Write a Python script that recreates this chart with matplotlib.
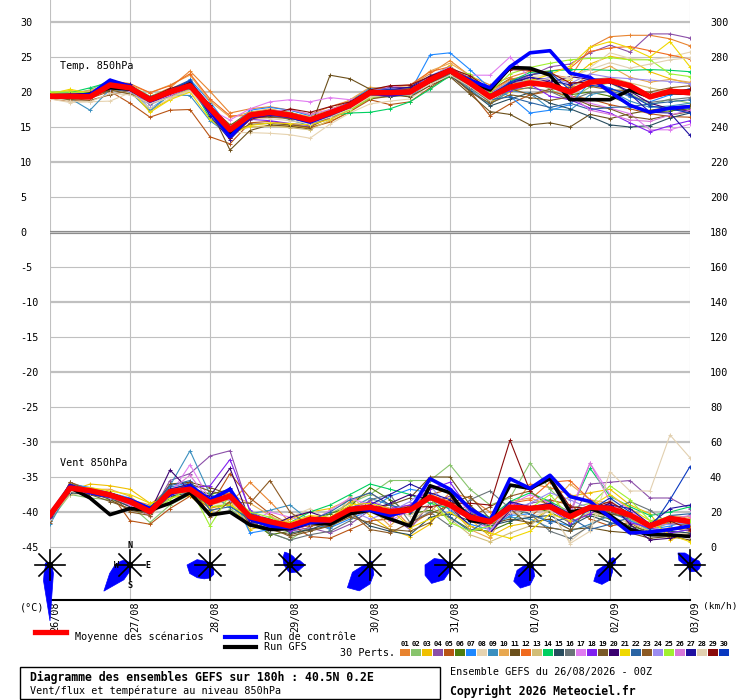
import matplotlib
matplotlib.use('Agg')
import matplotlib.pyplot as plt
import matplotlib.transforms as mtransforms
from matplotlib.lines import Line2D
from matplotlib.patches import Polygon, Rectangle, Circle
import numpy as np

plt.rcParams['font.family'] = ['DejaVu Sans Mono']
plt.rcParams['axes.unicode_minus'] = False

#################################################
# Data.
hours = list(range(0, 193, 6))
day_ticks = [0, 24, 48, 72, 96, 120, 144, 168, 192]
day_labels = ['26/08', '27/08', '28/08', '29/08', '30/08', '31/08', '01/09', '02/09', '03/09']

# temperature 850hPa (degC)
mean_t = [19.4, 19.4, 19.3, 21.0, 20.6, 18.9, 20.0, 20.9, 17.7, 14.6, 16.7, 17.1, 16.7, 16.0, 17.0, 18.1, 19.9,
          19.9, 20.0, 21.7, 23.1, 21.3, 19.3, 20.7, 21.3, 21.0, 20.0, 21.4, 21.6, 20.9, 19.3, 20.1, 19.9]
ctrl_t = [19.4, 19.5, 19.6, 21.7, 20.8, 18.7, 19.9, 20.9, 17.3, 13.6, 16.5, 16.9, 16.5, 15.7, 16.8, 18.0, 19.8,
          19.6, 19.9, 21.8, 23.1, 21.7, 20.6, 23.6, 25.6, 25.9, 22.7, 22.1, 20.0, 18.1, 17.1, 17.7, 17.9]
gfs_t = [19.3, 19.4, 19.7, 20.6, 20.4, 18.8, 19.9, 21.1, 17.6, 14.1, 16.6, 17.0, 16.6, 15.9, 16.9, 18.1, 19.9,
         19.9, 20.0, 21.6, 23.0, 21.5, 20.3, 23.5, 23.4, 22.4, 18.9, 18.9, 18.9, 20.3, 19.3, 19.9, 19.8]

t01 = [19.6, 19.5, 19.8, 21.5, 20.9, 19.3, 20.6, 23.0, 20.1, 17.0, 17.6, 17.9, 17.4, 16.8, 17.9, 18.8, 20.4, 20.8, 20.9, 22.6, 24.5, 22.3, 21.0, 22.1, 23.0, 22.5, 22.0, 26.4, 27.9, 28.1, 28.1, 27.6, 26.6]
t02 = [19.8, 19.7, 20.3, 21.7, 21.0, 19.4, 20.4, 21.3, 17.0, 14.0, 16.3, 17.5, 17.0, 16.4, 17.2, 18.0, 19.6, 19.5, 19.8, 21.2, 22.6, 20.8, 18.9, 21.2, 21.9, 20.4, 19.0, 20.7, 21.3, 19.8, 18.1, 19.0, 18.4]
t03 = [19.9, 20.2, 19.9, 21.3, 20.2, 17.3, 19.0, 20.3, 17.9, 15.3, 15.0, 15.2, 15.1, 14.9, 15.8, 17.2, 19.1, 19.4, 20.3, 22.0, 23.8, 21.0, 18.5, 20.0, 20.7, 21.6, 21.7, 24.0, 25.1, 24.6, 22.9, 21.9, 21.2]
t04 = [19.1, 19.0, 19.2, 20.6, 20.3, 18.7, 19.8, 20.6, 16.9, 13.5, 16.0, 16.6, 16.3, 15.9, 16.6, 17.8, 19.6, 20.1, 20.3, 21.8, 22.9, 21.6, 19.9, 21.4, 22.3, 23.6, 24.0, 25.6, 26.7, 25.7, 28.3, 28.3, 27.7]
t05 = [19.0, 18.7, 19.1, 20.1, 18.4, 16.4, 17.4, 17.5, 13.6, 12.6, 15.6, 15.8, 15.4, 14.9, 15.7, 17.2, 18.9, 18.2, 18.6, 20.6, 22.4, 20.1, 16.6, 18.3, 19.6, 20.1, 19.4, 19.0, 18.2, 17.6, 16.9, 16.5, 16.4]
t06 = [19.5, 19.3, 19.5, 20.9, 20.6, 19.0, 20.3, 21.5, 18.0, 15.2, 17.2, 17.3, 17.1, 16.3, 17.5, 18.4, 19.7, 20.2, 20.4, 21.9, 23.3, 22.0, 20.2, 21.9, 21.5, 21.2, 19.6, 20.0, 19.4, 18.2, 17.1, 17.3, 17.6]
t07 = [19.4, 19.2, 19.4, 21.2, 20.5, 17.6, 19.5, 21.8, 18.6, 14.8, 17.4, 17.8, 17.4, 16.6, 17.3, 18.6, 20.6, 20.5, 20.0, 25.3, 25.6, 23.2, 20.5, 19.4, 17.0, 17.4, 18.2, 21.4, 20.6, 19.3, 18.6, 19.6, 20.5]
t08 = [19.0, 18.5, 18.6, 18.7, 19.9, 17.7, 19.0, 20.2, 16.9, 14.2, 14.2, 14.1, 13.9, 13.4, 15.4, 17.0, 18.3, 18.7, 19.0, 21.0, 22.8, 21.0, 19.6, 20.4, 22.2, 22.4, 21.9, 23.5, 25.6, 24.8, 24.6, 25.0, 25.7]
t09 = [19.3, 19.1, 17.4, 20.4, 20.0, 17.3, 19.6, 19.5, 15.9, 13.8, 16.6, 17.0, 16.0, 15.2, 16.5, 17.6, 19.2, 19.8, 19.4, 21.3, 22.5, 20.4, 18.2, 20.2, 19.8, 17.6, 17.4, 19.6, 20.2, 18.7, 17.8, 18.0, 18.4]
t10 = [19.6, 19.8, 20.2, 21.1, 21.0, 19.9, 21.0, 22.4, 18.7, 16.4, 17.1, 17.6, 17.0, 16.5, 17.4, 18.9, 20.7, 20.3, 20.6, 23.0, 24.1, 22.4, 20.0, 21.6, 21.0, 20.8, 20.5, 22.6, 23.7, 22.1, 21.4, 21.8, 21.4]
t11 = [19.2, 19.0, 19.5, 20.2, 20.5, 19.0, 19.9, 21.0, 17.6, 11.7, 14.5, 15.3, 15.1, 14.7, 22.4, 21.9, 20.4, 19.6, 19.3, 20.9, 22.2, 19.7, 17.2, 16.8, 15.3, 15.6, 15.0, 16.8, 16.2, 16.9, 17.4, 17.8, 18.1]
t12 = [19.5, 19.6, 19.9, 21.6, 21.2, 19.9, 20.9, 22.6, 19.0, 16.6, 16.6, 16.9, 16.6, 16.0, 17.3, 18.3, 20.2, 20.8, 21.0, 22.9, 23.6, 21.9, 20.2, 21.8, 22.4, 23.0, 23.4, 25.8, 26.3, 26.5, 25.9, 25.3, 24.7]
t13 = [19.4, 19.5, 19.6, 20.3, 19.8, 18.2, 19.3, 20.4, 17.3, 14.2, 15.0, 15.1, 14.9, 14.6, 16.0, 17.5, 19.4, 19.3, 19.6, 21.5, 22.7, 20.7, 19.8, 21.0, 21.8, 21.7, 20.8, 21.7, 22.1, 21.3, 20.6, 20.0, 19.8]
t14 = [19.8, 19.9, 20.6, 21.4, 20.6, 19.0, 20.1, 21.2, 16.2, 14.1, 16.6, 17.1, 16.6, 16.0, 16.6, 17.0, 17.1, 17.6, 18.6, 20.4, 22.3, 21.1, 19.3, 21.5, 22.8, 23.0, 23.2, 23.2, 23.1, 23.1, 23.2, 23.1, 22.9]
t15 = [19.3, 19.2, 19.4, 20.8, 20.1, 18.3, 19.5, 20.6, 17.4, 14.3, 16.3, 16.5, 16.3, 15.5, 16.4, 17.8, 19.6, 19.3, 19.7, 21.4, 22.4, 20.2, 18.0, 19.0, 19.9, 18.4, 17.6, 16.5, 15.3, 15.0, 15.2, 16.3, 17.0]
t16 = [19.3, 19.3, 19.5, 20.6, 20.3, 18.5, 19.7, 20.5, 16.8, 14.4, 16.5, 16.7, 16.2, 15.7, 16.9, 17.9, 19.4, 19.8, 19.9, 21.3, 22.6, 20.6, 18.6, 20.3, 20.6, 20.1, 18.8, 19.9, 20.1, 19.5, 18.5, 18.9, 19.2]
t17 = [19.1, 19.2, 19.3, 20.5, 20.7, 18.6, 20.1, 21.3, 17.5, 16.0, 17.6, 18.6, 18.9, 18.6, 19.2, 18.9, 19.5, 20.9, 20.4, 22.1, 23.3, 22.4, 22.4, 25.0, 22.0, 21.6, 19.2, 18.4, 17.7, 16.9, 14.6, 14.6, 15.4]
t18 = [19.4, 19.3, 19.4, 21.0, 20.3, 18.9, 19.6, 20.6, 17.1, 14.5, 16.1, 15.9, 15.5, 15.2, 16.2, 17.5, 19.1, 19.7, 19.9, 21.6, 22.9, 21.1, 19.4, 20.2, 21.1, 19.4, 18.9, 17.7, 17.0, 15.6, 14.3, 15.2, 15.9]
t19 = [19.2, 18.9, 19.3, 20.3, 19.7, 18.4, 19.8, 20.7, 17.2, 13.8, 15.4, 15.5, 15.3, 15.0, 16.4, 17.6, 19.0, 19.4, 19.8, 21.3, 22.7, 20.0, 18.4, 19.6, 19.2, 18.8, 19.3, 18.1, 17.6, 16.5, 16.1, 16.7, 17.2]
t20 = [19.5, 19.4, 19.6, 21.2, 20.8, 19.3, 20.2, 21.0, 18.1, 14.7, 16.9, 17.4, 16.9, 16.2, 17.3, 18.5, 20.1, 20.6, 20.6, 22.0, 23.4, 21.7, 19.4, 21.2, 22.1, 21.4, 22.2, 21.8, 21.3, 20.1, 18.4, 17.6, 17.3]
t21 = [19.7, 20.4, 19.8, 21.1, 20.4, 17.1, 18.9, 20.0, 16.1, 13.9, 15.2, 15.6, 15.5, 15.3, 16.1, 17.5, 19.4, 19.6, 20.2, 21.8, 23.5, 21.4, 19.5, 21.0, 21.6, 22.5, 23.7, 26.4, 27.2, 26.3, 25.0, 27.2, 23.6]
t22 = [19.3, 19.1, 19.2, 21.1, 20.5, 18.7, 20.4, 21.7, 17.6, 14.9, 16.6, 17.0, 16.7, 15.9, 17.1, 18.2, 19.9, 20.0, 20.1, 21.9, 22.8, 20.9, 18.9, 19.3, 18.5, 17.8, 18.4, 17.5, 17.8, 17.9, 18.3, 18.6, 18.9]
t23 = [19.4, 18.9, 18.8, 19.6, 20.2, 18.6, 19.6, 20.8, 17.9, 15.3, 16.4, 16.4, 16.2, 15.8, 16.8, 18.3, 20.0, 20.2, 20.5, 21.5, 23.5, 21.5, 19.0, 20.5, 19.6, 20.4, 20.7, 20.8, 20.3, 20.2, 20.0, 20.6, 20.9]
t24 = [19.6, 19.5, 19.7, 20.5, 20.1, 18.2, 19.6, 20.9, 17.6, 14.9, 16.9, 16.9, 16.5, 16.0, 17.2, 18.3, 20.2, 20.5, 20.1, 22.3, 23.6, 21.5, 19.7, 21.5, 21.4, 22.1, 21.2, 22.6, 22.1, 21.9, 21.7, 21.5, 21.2]
t25 = [20.0, 20.0, 19.9, 21.4, 20.6, 19.2, 20.3, 21.1, 17.8, 14.4, 16.6, 16.8, 16.4, 15.9, 16.7, 17.4, 19.1, 19.8, 20.2, 21.8, 22.9, 22.6, 20.0, 22.6, 23.5, 24.1, 24.6, 24.8, 24.9, 24.6, 24.6, 22.6, 22.2]
t26 = [19.3, 19.4, 19.3, 20.8, 20.2, 18.5, 19.5, 20.7, 17.0, 15.0, 16.9, 17.2, 17.5, 16.8, 17.5, 18.4, 19.8, 20.2, 19.9, 21.6, 23.2, 21.0, 19.1, 20.6, 21.2, 20.7, 19.6, 17.4, 16.8, 16.0, 15.8, 16.7, 17.4]
t27 = [19.6, 19.7, 19.8, 21.5, 21.1, 18.4, 19.8, 21.4, 16.6, 13.2, 16.2, 17.0, 16.6, 15.8, 17.1, 18.4, 19.9, 20.3, 20.7, 22.3, 23.3, 21.3, 19.6, 21.3, 22.1, 21.7, 21.0, 21.9, 21.8, 19.7, 17.1, 17.0, 13.8]
t28 = [19.2, 18.7, 18.6, 19.8, 19.6, 18.4, 19.2, 20.2, 17.3, 14.9, 16.2, 16.2, 15.9, 15.5, 16.4, 17.6, 19.3, 19.6, 19.7, 21.1, 22.4, 20.8, 18.8, 20.8, 21.5, 21.9, 22.1, 23.2, 24.2, 23.4, 24.0, 24.6, 24.9]
t29 = [19.5, 19.5, 19.8, 21.3, 20.9, 19.2, 20.5, 21.3, 18.2, 13.4, 16.1, 16.7, 17.6, 17.1, 17.9, 18.6, 20.3, 20.9, 21.0, 22.2, 23.4, 22.3, 20.4, 23.2, 23.1, 22.8, 21.3, 21.4, 21.9, 20.6, 19.6, 20.1, 20.4]
t30 = [19.6, 19.4, 19.6, 21.4, 20.9, 19.1, 20.2, 21.6, 18.0, 14.0, 16.3, 16.9, 16.4, 15.7, 16.8, 18.0, 20.1, 20.4, 20.2, 21.9, 23.0, 21.1, 19.3, 21.4, 22.5, 22.8, 20.3, 21.0, 20.5, 19.6, 18.0, 17.6, 17.0]

# wind 850hPa (km/h)
mean_w = [18.3, 33.7, 32.2, 29.7, 25.9, 20.2, 31.6, 33.0, 25.3, 29.1, 17.3, 14.5, 12.0, 15.8, 15.4, 21.5, 22.7,
          20.2, 21.1, 28.4, 24.0, 17.0, 14.5, 22.7, 22.1, 23.0, 17.3, 22.7, 22.1, 18.3, 12.0, 16.4, 14.5]
ctrl_w = [17.0, 35.0, 31.0, 29.0, 27.0, 22.0, 30.0, 35.0, 27.0, 33.0, 16.0, 12.0, 11.0, 14.0, 15.0, 22.0, 21.0,
          18.0, 21.0, 39.0, 33.0, 22.0, 15.0, 39.0, 33.5, 41.0, 28.8, 26.0, 17.0, 8.0, 8.5, 10.0, 12.0]
gfs_w = [17.5, 34.0, 28.0, 18.5, 22.0, 21.0, 25.0, 31.0, 18.3, 20.0, 12.6, 10.0, 10.5, 14.0, 13.0, 19.0, 21.0,
         16.0, 12.0, 35.0, 31.0, 15.0, 14.0, 35.4, 33.5, 39.0, 20.0, 22.0, 18.0, 10.0, 7.0, 6.9, 6.0]

w01 = [17, 33, 32, 30, 27, 24, 34, 30, 22, 25, 37, 26, 14, 9, 16, 26, 31, 24, 12, 20, 31, 28, 20, 21, 36, 34, 30, 26, 22, 16, 10, 14, 18]
w02 = [15, 30, 28, 27, 24, 14, 24, 30, 31, 22, 13, 8, 4, 12, 19, 25, 30, 38, 38, 38, 47, 33, 24, 28, 48, 33, 22, 25, 19, 16, 9, 14, 16]
w03 = [18, 32, 36, 35, 33, 25, 29, 29, 20, 26, 10, 13, 16, 20, 22, 27, 18, 10, 6, 13, 28, 16, 6, 12, 14, 22, 29, 31, 33, 24, 19, 4, 8]
w04 = [16, 35, 30, 28, 23, 18, 38, 42, 52, 55, 20, 15, 9, 11, 8, 13, 21, 18, 10, 25, 29, 15, 11, 19, 25, 27, 13, 36, 37, 38, 28, 28, 22]
w05 = [14, 37, 33, 31, 15, 13, 22, 29, 23, 42, 28, 19, 13, 6, 5, 10, 15, 16, 24, 30, 33, 20, 12, 20, 17, 27, 24, 16, 12, 14, 7, 11, 9]
w06 = [18, 34, 31, 28, 25, 20, 28, 34, 30, 33, 16, 7, 9, 16, 19, 23, 34, 27, 19, 21, 17, 10, 9, 14, 23, 20, 14, 19, 16, 12, 9, 10, 11]
w07 = [20, 36, 34, 31, 28, 21, 34, 37, 26, 32, 8, 10, 10, 13, 11, 16, 21, 29, 33, 31, 21, 13, 10, 18, 19, 15, 12, 22, 20, 15, 10, 12, 15]
w08 = [16, 31, 30, 29, 27, 17, 29, 32, 25, 24, 16, 13, 17, 22, 15, 20, 28, 21, 18, 25, 23, 16, 13, 20, 17, 21, 3, 13, 27, 18, 11, 9, 7]
w09 = [13, 33, 31, 30, 26, 22, 35, 55, 30, 23, 19, 21, 24, 15, 10, 22, 28, 24, 20, 27, 25, 20, 14, 17, 16, 11, 9, 13, 18, 10, 7, 8, 10]
w10 = [19, 35, 33, 33, 29, 20, 31, 33, 28, 30, 25, 18, 11, 14, 16, 21, 23, 12, 23, 29, 23, 10, 5, 26, 28, 24, 36, 27, 25, 19, 13, 18, 17]
w11 = [17, 36, 32, 27, 21, 19, 36, 37, 34, 30, 14, 10, 7, 10, 12, 18, 22, 24, 28, 40, 40, 24, 13, 16, 14, 16, 10, 11, 9, 8, 5, 6, 4]
w12 = [18, 34, 33, 31, 27, 22, 30, 33, 28, 31, 17, 14, 11, 12, 15, 20, 22, 21, 24, 30, 26, 19, 16, 25, 27, 37, 38, 27, 22, 19, 12, 14, 12]
w13 = [17, 30, 31, 30, 25, 21, 33, 35, 24, 27, 12, 17, 14, 18, 13, 29, 20, 15, 14, 23, 16, 7, 3, 8, 12, 22, 14, 20, 17, 14, 9, 11, 10]
w14 = [19, 32, 31, 29, 27, 23, 33, 31, 23, 24, 15, 12, 14, 20, 24, 30, 36, 33, 30, 25, 22, 21, 17, 26, 31, 26, 20, 45, 29, 23, 18, 20, 23]
w15 = [18, 31, 30, 28, 23, 19, 29, 31, 25, 28, 19, 16, 8, 10, 14, 20, 12, 9, 7, 17, 19, 15, 12, 15, 17, 18, 12, 18, 14, 11, 8, 9, 8]
w16 = [17, 33, 31, 29, 26, 21, 32, 34, 25, 29, 18, 8, 4, 7, 9, 15, 27, 30, 14, 20, 12, 27, 32, 22, 19, 9, 5, 12, 20, 26, 21, 13, 13]
w17 = [16, 34, 32, 29, 24, 18, 30, 47, 27, 30, 14, 20, 17, 14, 21, 28, 24, 15, 21, 35, 34, 19, 9, 24, 30, 25, 20, 48, 30, 21, 13, 16, 14]
w18 = [17, 33, 32, 30, 26, 21, 31, 34, 35, 50, 21, 13, 9, 13, 15, 22, 26, 22, 24, 33, 37, 21, 13, 25, 23, 22, 14, 19, 25, 14, 11, 8, 10]
w19 = [16, 33, 30, 26, 22, 19, 33, 36, 32, 29, 13, 11, 6, 9, 12, 17, 14, 10, 9, 14, 25, 29, 16, 22, 12, 11, 9, 24, 19, 17, 13, 15, 14]
w20 = [17, 35, 33, 30, 26, 20, 44, 32, 29, 45, 15, 12, 17, 20, 16, 20, 21, 25, 30, 27, 23, 12, 8, 21, 23, 24, 18, 21, 25, 13, 4, 5, 7]
w21 = [18, 34, 34, 32, 30, 25, 28, 30, 23, 24, 17, 15, 14, 18, 17, 24, 25, 22, 11, 16, 20, 12, 8, 5, 9, 19, 15, 23, 30, 22, 15, 7, 3]
w22 = [17, 32, 31, 29, 27, 21, 35, 38, 21, 23, 16, 11, 11, 15, 20, 27, 31, 24, 21, 28, 17, 9, 16, 24, 19, 14, 17, 10, 13, 17, 11, 18, 19]
w23 = [15, 37, 32, 30, 20, 18, 30, 37, 17, 26, 25, 38, 20, 12, 13, 20, 10, 8, 14, 19, 24, 17, 23, 29, 32, 23, 18, 22, 20, 17, 12, 15, 13]
w24 = [16, 32, 31, 28, 25, 20, 30, 33, 28, 27, 16, 12, 11, 13, 14, 21, 16, 20, 26, 35, 22, 16, 13, 21, 25, 31, 27, 22, 21, 18, 12, 13, 14]
w25 = [18, 33, 32, 30, 26, 20, 27, 34, 12, 30, 20, 17, 12, 16, 15, 21, 23, 20, 22, 28, 14, 9, 12, 23, 22, 30, 17, 24, 35, 27, 15, 17, 15]
w26 = [17, 34, 33, 30, 26, 21, 32, 41, 26, 29, 17, 14, 12, 15, 15, 21, 22, 20, 21, 28, 24, 17, 15, 22, 21, 23, 18, 48, 26, 17, 12, 16, 18]
w27 = [17, 34, 32, 31, 27, 21, 33, 36, 24, 34, 14, 13, 11, 16, 14, 22, 24, 30, 36, 31, 27, 19, 14, 26, 23, 25, 19, 23, 24, 22, 13, 22, 24]
w28 = [16, 32, 31, 29, 26, 20, 31, 33, 26, 29, 16, 14, 12, 15, 15, 21, 22, 20, 20, 27, 23, 17, 13, 22, 20, 22, 2, 9, 43, 32, 32, 64, 51]
w29 = [18, 35, 32, 31, 27, 21, 32, 34, 27, 30, 18, 14, 13, 17, 15, 22, 23, 21, 23, 23, 25, 25, 24, 61, 32, 40, 23, 22, 26, 19, 13, 15, 10]
w30 = [18, 33, 32, 30, 26, 22, 32, 35, 25, 30, 17, 15, 12, 16, 15, 21, 23, 21, 20, 28, 24, 18, 15, 22, 21, 23, 17, 21, 28, 20, 10, 27, 46]

pert_colors = ['#e8832f', '#88c46c', '#f0c000', '#8b4fa8', '#b85414', '#4e7d0e', '#1e88ff', '#e6d3b0',
               '#3a8fbf', '#e8a850', '#6b4f1a', '#f06a1e', '#d2be78', '#00d060', '#284c5e', '#6a7478',
               '#e07cf0', '#8020f0', '#7a5a28', '#3a0070', '#f0d800', '#2a64a4', '#8c5a24', '#9c8cf0',
               '#a0f030', '#d878d8', '#2010a0', '#e2d0b0', '#8a0a0a', '#0838c0']

# wind roses, radius (px) per direction N, NNE, NE, ... NNW
rose_00 = [2, 2, 2, 2, 3, 3, 3, 9, 56, 17, 8, 5, 5, 5, 4, 2]
rose_01 = [3, 2, 2, 2, 2, 2, 2, 3, 6, 16, 37, 22, 15, 10, 7, 3]
rose_02 = [3, 2, 2, 2, 3, 3, 5, 10, 13, 15, 18, 22, 23, 14, 5, 3]
rose_03 = [11, 9, 8, 11, 15, 11, 10, 8, 8, 6, 5, 5, 6, 7, 10, 14]
rose_04 = [4, 4, 4, 3, 3, 3, 4, 10, 19, 28, 32, 19, 6, 3, 3, 3]
rose_05 = [3, 3, 3, 3, 3, 3, 3, 4, 6, 16, 26, 27, 25, 17, 7, 3]
rose_06 = [4, 3, 3, 3, 4, 4, 5, 12, 20, 25, 23, 14, 5, 3, 3, 3]
rose_07 = [6, 8, 8, 6, 4, 3, 3, 7, 15, 21, 23, 14, 5, 3, 3, 4]
rose_08 = [9, 7, 8, 10, 11, 10, 9, 7, 7, 4, 3, 3, 5, 12, 17, 13]

temp_members = [t01, t02, t03, t04, t05, t06, t07, t08, t09, t10, t11, t12, t13, t14, t15,
                t16, t17, t18, t19, t20, t21, t22, t23, t24, t25, t26, t27, t28, t29, t30]
wind_members = [w01, w02, w03, w04, w05, w06, w07, w08, w09, w10, w11, w12, w13, w14, w15,
                w16, w17, w18, w19, w20, w21, w22, w23, w24, w25, w26, w27, w28, w29, w30]
roses = [rose_00, rose_01, rose_02, rose_03, rose_04, rose_05, rose_06, rose_07, rose_08]

#################################################
# Figure.
W, H = 740, 700
fig = plt.figure(figsize=(W / 100, H / 100), dpi=100)


def fx(x):
    return x / W


def fy(y):
    return 1 - y / H


# plot area: x 50..690 px, y 0..600 px; 7 px per degC, 30 degC at y=22
y_top = 30 + 22 / 7
y_bot = 30 - (600 - 22) / 7
ax = fig.add_axes([fx(50), fy(600), fx(640), 600 / H])
ax.set_xlim(0, 192)
ax.set_ylim(y_bot, y_top)
for s in ['top', 'left', 'right']:
    ax.spines[s].set_visible(False)
ax.spines['bottom'].set_color('black')
ax.spines['bottom'].set_linewidth(1.5)

ax.set_xticks(day_ticks)
ax.set_xticklabels(day_labels)
ax.tick_params(axis='x', length=0, pad=1, labelrotation=90, labelsize=7.3)
for lab in ax.get_xticklabels():
    lab.set_horizontalalignment('left')
ax.grid(axis='x', color='#c0c0c0', lw=0.8)
ax.set_axisbelow(True)

ax.set_yticks(range(-45, 31, 5))
ax.tick_params(axis='y', length=0, pad=21.6, labelsize=7.3)
for lab in ax.get_yticklabels():
    lab.set_horizontalalignment('left')

for v in range(-45, 31, 5):
    if v == 0:
        ax.axhline(v, color='#8c8c8c', lw=2.3, zorder=1)
        ax.axhline(v, color='#d0d0d0', lw=0.6, zorder=1)
    elif v % 10 == 0:
        ax.axhline(v, color='#c0c0c0', lw=1.6, zorder=1)
    else:
        ax.axhline(v, color='#c0c0c0', lw=0.8, zorder=1)

# temperature
for m, c in zip(temp_members, pert_colors):
    ax.plot(hours, m, color=c, lw=0.8, marker='+', ms=3, mew=0.7, zorder=2)
ax.plot(hours, gfs_t, color='black', lw=2.6, zorder=3)
ax.plot(hours, ctrl_t, color='#0000ff', lw=2.6, zorder=3)
ax.plot(hours, mean_t, color='#ff0000', lw=4.0, zorder=4)

# wind on right axis
ax2 = ax.twinx()
ax2.set_ylim((y_bot + 45) * 4, (y_top + 45) * 4)
for s in ax2.spines.values():
    s.set_visible(False)
ax2.set_yticks(range(0, 301, 20))
ax2.tick_params(axis='y', length=0, pad=14.4, labelsize=7.3)
for m, c in zip(wind_members, pert_colors):
    ax2.plot(hours, m, color=c, lw=0.8, marker='+', ms=3, mew=0.7, zorder=2)
ax2.plot(hours, gfs_w, color='black', lw=2.6, zorder=3)
ax2.plot(hours, ctrl_w, color='#0000ff', lw=2.6, zorder=3)
ax2.plot(hours, mean_w, color='#ff0000', lw=4.0, zorder=4)

# wind roses under the curves
rose_y = 30 - (565 - 22) / 7
ang = np.deg2rad(np.arange(16) * 22.5)
for i, (h, r) in enumerate(zip(day_ticks, roses)):
    trans = (mtransforms.Affine2D().scale(1 / 100) + fig.dpi_scale_trans +
             mtransforms.ScaledTranslation(h, rose_y, ax.transData))
    r = np.array(r, dtype=float)
    verts = np.column_stack([r * np.sin(ang), r * np.cos(ang)])
    ax.add_patch(Polygon(verts, closed=True, transform=trans, facecolor='#0000ff',
                         edgecolor='#0000ff', lw=0.5, clip_on=False, zorder=5))
    for (x0, y0, x1, y1) in [(-15, 0, 15, 0), (0, -15, 0, 15), (-11, -11, 11, 11), (-11, 11, 11, -11)]:
        ax.add_line(Line2D([x0, x1], [y0, y1], transform=trans, color='black', lw=1.2,
                           clip_on=False, zorder=6))
    ax.add_patch(Circle((0, 0), 2.5, transform=trans, color='black', clip_on=False, zorder=6))
    if i == 1:
        for txt, ox, oy in [('N', 0, 19), ('S', 0, -20), ('W', -14, 0), ('E', 18, 0)]:
            ax.text(ox, oy, txt, transform=trans, fontsize=6, fontweight='bold',
                    ha='center', va='center', zorder=7)

# labels inside plot
fig.text(fx(60), fy(66), 'Temp. 850hPa', fontsize=7.3, va='center')
fig.text(fx(60), fy(463), 'Vent 850hPa', fontsize=7.3, va='center')
fig.text(fx(20), fy(607), '(°C)', fontsize=7.3, va='center')
fig.text(fx(703), fy(607), '(km/h)', fontsize=6.8, va='center')

# legend
fig.add_artist(Line2D([fx(35), fx(66)], [fy(632), fy(632)], color='#ff0000', lw=3.8))
fig.text(fx(75), fy(637), 'Moyenne des scénarios', fontsize=7.3, va='center')
fig.add_artist(Line2D([fx(225), fx(256)], [fy(637), fy(637)], color='#0000ff', lw=3))
fig.text(fx(264), fy(637), 'Run de contrôle', fontsize=7.3, va='center')
fig.add_artist(Line2D([fx(225), fx(256)], [fy(647), fy(647)], color='black', lw=3))
fig.text(fx(264), fy(647), 'Run GFS', fontsize=7.3, va='center')
fig.text(fx(340), fy(653), '30 Perts.', fontsize=7.3, va='center')
for k, c in enumerate(pert_colors):
    x0 = 400 + 11 * k
    fig.add_artist(Rectangle((fx(x0), fy(656)), fx(10), 7 / H, color=c, lw=0))
    fig.text(fx(x0 + 5), fy(644), '{:02d}'.format(k + 1), fontsize=5.2, fontweight='bold',
             ha='center', va='center')

# footer
fig.add_artist(Rectangle((fx(20), fy(699)), fx(420), 32 / H, fill=False, edgecolor='black', lw=1))
fig.text(fx(30), fy(677), 'Diagramme des ensembles GEFS sur 180h : 40.5N 0.2E', fontsize=8.3,
         fontweight='bold', va='center')
fig.text(fx(30), fy(691), 'Vent/flux et température au niveau 850hPa', fontsize=7.3, va='center')
fig.text(fx(450), fy(672), 'Ensemble GEFS du 26/08/2026 - 00Z', fontsize=7.3, va='center')
fig.text(fx(450), fy(691), 'Copyright 2026 Meteociel.fr', fontsize=8.3, fontweight='bold', va='center')

fig.savefig('out.png', dpi=100)
